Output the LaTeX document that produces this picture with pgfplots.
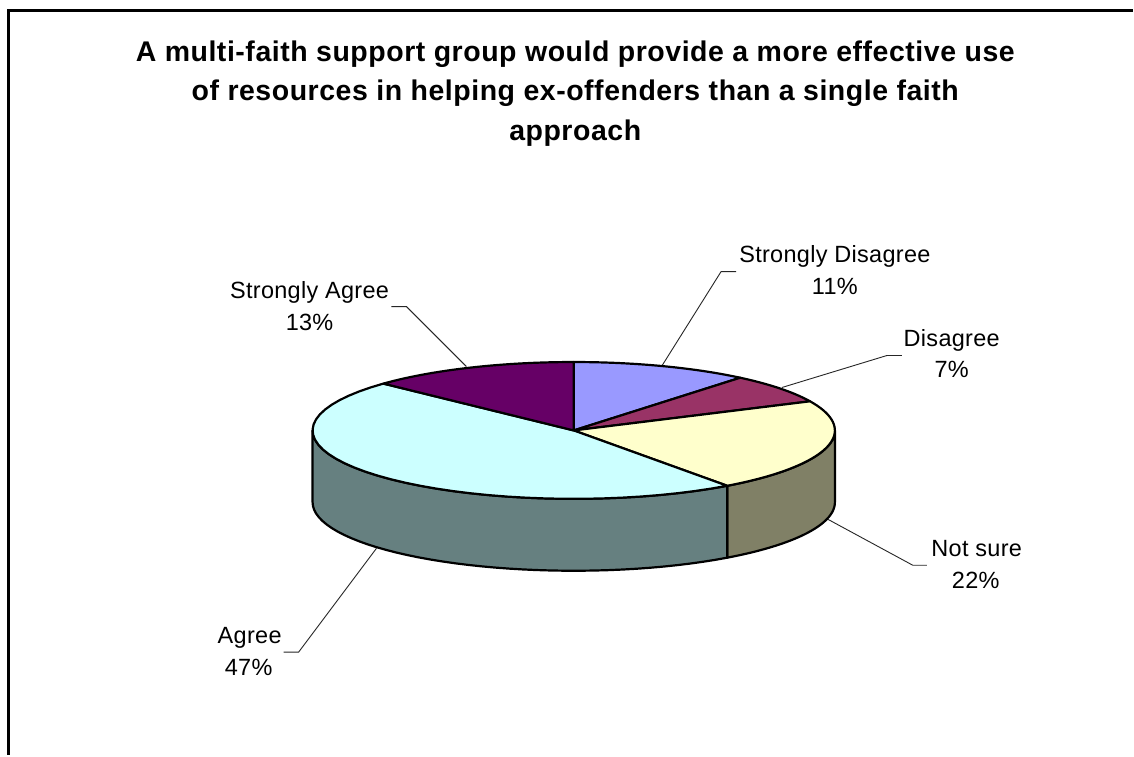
\documentclass[border=0pt]{standalone}
\usepackage{pgfplots}
\pgfplotsset{compat=1.18}
\usepackage{fontspec}
\setmainfont{Liberation Sans}
\newfontfamily\lblfont[LetterSpace=1.3]{Liberation Sans}
\newfontfamily\ttlfont[LetterSpace=1.9]{Liberation Sans Bold}

\definecolor{sdis}{HTML}{9999FF}
\definecolor{dis}{HTML}{993366}
\definecolor{nsure}{HTML}{FFFFCC}
\definecolor{agr}{HTML}{CCFFFF}
\definecolor{sagr}{HTML}{660066}
\definecolor{nsureside}{HTML}{808066}
\definecolor{agrside}{HTML}{668080}

% Pie geometry in axis units
\def\cx{574.5}\def\cy{431}\def\rx{261.5}\def\ry{68.5}\def\depth{72}

% Shares in percent, clockwise from twelve o'clock
\def\vSD{11}\def\vD{7}\def\vNS{22}\def\vA{47}\def\vSA{13}

% \wedgepts{macro}{start percent}{share percent}: outline of a top sector
\newcommand{\wedgepts}[3]{%
  \pgfmathsetmacro\aA{(#2)*3.6}%
  \pgfmathsetmacro\aB{(#2+#3)*3.6}%
  \gdef#1{(\cx,\cy)}%
  \foreach \k in {0,...,40}{%
    \pgfmathsetmacro\tt{\aA+(\aB-\aA)*\k/40}%
    \pgfmathsetmacro\px{\cx+\rx*sin(\tt)}%
    \pgfmathsetmacro\py{\cy-\ry*cos(\tt)}%
    \xdef#1{#1 (\px,\py)}%
  }%
}
% \wallpts{macro}{from angle}{to angle}: visible rim between two angles
\newcommand{\wallpts}[3]{%
  \gdef#1{}%
  \foreach \k in {0,...,40}{%
    \pgfmathsetmacro\tt{#2+(#3-#2)*\k/40}%
    \pgfmathsetmacro\px{\cx+\rx*sin(\tt)}%
    \pgfmathsetmacro\py{\cy-\ry*cos(\tt)}%
    \xdef#1{#1 (\px,\py)}%
  }%
  \foreach \k in {40,...,0}{%
    \pgfmathsetmacro\tt{#2+(#3-#2)*\k/40}%
    \pgfmathsetmacro\px{\cx+\rx*sin(\tt)}%
    \pgfmathsetmacro\py{\cy+\depth-\ry*cos(\tt)}%
    \xdef#1{#1 (\px,\py)}%
  }%
}
\newcommand{\fillshape}[2]{%
  \edef\cmd{\noexpand\addplot[fill=#1,draw=black,line width=2.2pt,line join=round] coordinates {#2} -- cycle;}\cmd}

\tikzset{lbl/.style={anchor=base,inner sep=0pt,font=\fontsize{23.5}{23.5}\selectfont\lblfont},
         ttl/.style={anchor=base,inner sep=0pt,font=\fontsize{28.5}{28.5}\selectfont\ttlfont}}

\begin{document}
\begin{tikzpicture}
\pgfmathsetmacro\sA{\vSD}
\pgfmathsetmacro\sB{\vSD+\vD}
\pgfmathsetmacro\sC{\vSD+\vD+\vNS}
\pgfmathsetmacro\sD{\vSD+\vD+\vNS+\vA}
\wedgepts{\wSD}{0}{\vSD}
\wedgepts{\wD}{\sA}{\vD}
\wedgepts{\wNS}{\sB}{\vNS}
\wedgepts{\wA}{\sC}{\vA}
\wedgepts{\wSA}{\sD}{\vSA}
\pgfmathsetmacro\angNS{\sC*3.6}
\wallpts{\rimNS}{90}{\angNS}
\wallpts{\rimA}{\angNS}{270}
\begin{axis}[
  scale only axis, width=1134pt, height=756pt,
  xmin=0, xmax=1134, ymin=0, ymax=756, y dir=reverse,
  hide axis, clip=false,
]
% white page behind everything
\addplot[fill=white,draw=none] coordinates {(0,0) (1134,0) (1134,756) (0,756)} -- cycle;
% frame, open at the right and at the bottom
\addplot[black,line width=3pt,line join=miter] coordinates {(1134,10.5) (9,10.5) (9,756)};

% leader lines
\addplot[black!85,line width=0.9pt] coordinates {(663,366) (722,272) (737,272)};
\addplot[black!85,line width=0.9pt] coordinates {(783,388) (888,356) (903,356)};
\addplot[black!85,line width=0.9pt] coordinates {(467,367) (407,307) (392,307)};
\addplot[black!85,line width=0.9pt] coordinates {(829,520) (914,566) (928,566)};
\addplot[black!85,line width=0.9pt] coordinates {(377,549) (299,653) (284,653)};

% rim, then the top sectors
\fillshape{nsureside}{\rimNS}
\fillshape{agrside}{\rimA}
\fillshape{sdis}{\wSD}
\fillshape{dis}{\wD}
\fillshape{nsure}{\wNS}
\fillshape{agr}{\wA}
\fillshape{sagr}{\wSA}

% title
\node[ttl] at (axis cs:576,62) {A multi-faith support group would provide a more effective use};
\node[ttl] at (axis cs:576,101) {of resources in helping ex-offenders than a single faith};
\node[ttl] at (axis cs:576,141) {approach};

% slice labels
\node[lbl] at (axis cs:836,263) {Strongly Disagree};
\node[lbl] at (axis cs:836,295) {11\%};
\node[lbl] at (axis cs:953,347) {Disagree};
\node[lbl] at (axis cs:953,378) {7\%};
\node[lbl] at (axis cs:310,299) {Strongly Agree};
\node[lbl] at (axis cs:310,331) {13\%};
\node[lbl] at (axis cs:978,557) {Not sure};
\node[lbl] at (axis cs:977,589) {22\%};
\node[lbl] at (axis cs:250,644) {Agree};
\node[lbl] at (axis cs:249,676) {47\%};
\end{axis}
\end{tikzpicture}
\end{document}
